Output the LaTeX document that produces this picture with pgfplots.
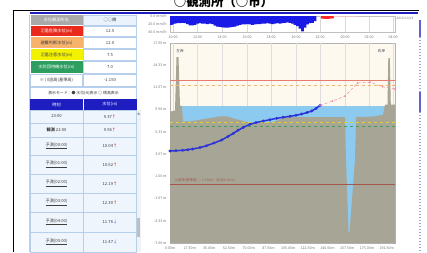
\documentclass[border=0pt]{standalone}
\usepackage{pgfplots}
\pgfplotsset{compat=1.18}
\usepackage{fontspec}
\setmainfont{Noto Sans CJK JP}
\definecolor{navyb}{HTML}{1E1EC0}
\definecolor{cred}{HTML}{E8291C}
\definecolor{corange}{HTML}{F7B36C}
\definecolor{cyellow}{HTML}{F2F200}
\definecolor{cgreen}{HTML}{2E9E60}
\definecolor{cgrey}{HTML}{A9A9A9}
\definecolor{lightcell}{HTML}{EAF2FB}
\definecolor{rowbg}{HTML}{EFF5FC}
\definecolor{cellline}{HTML}{B5CFEC}
\definecolor{txt}{HTML}{404040}
\definecolor{rainblue}{HTML}{1A1AE6}
\definecolor{ground}{HTML}{A7A696}
\definecolor{water}{HTML}{8DCAF0}
\definecolor{cream}{HTML}{FDF9EE}
\definecolor{lvred}{HTML}{E57C72}
\definecolor{lvorange}{HTML}{F1B46E}
\definecolor{lvyellow}{HTML}{DCD23A}
\definecolor{lvgreen}{HTML}{489A5E}
\definecolor{riverbed}{HTML}{A4564C}
\definecolor{wline}{HTML}{2B33D6}
\definecolor{fcast}{HTML}{F08DA2}
\newcommand{\tf}{\fontsize{4.2}{5}\selectfont}
\newcommand{\tk}{\fontsize{3.6}{4.2}\selectfont}
% ya yb fill textcolor label value rightfill
\newcommand{\lrow}[7]{%
  \fill[#3] (30.5,#1+0.4) rectangle (82.6,#2-0.4);
  \node[font=\tf, text=#4] at (56.5,{(#1+#2)/2}) {#5};
  \fill[#7] (83.4,#1+0.4) rectangle (136.5,#2-0.4);
  \draw[cellline, line width=0.4] (83.4,#1+0.4) rectangle (136.5,#2-0.4);
  \node[font=\tf, text=txt] at (110,{(#1+#2)/2}) {#6};
}
% ya yb label value arrow arrowcolor
\newcommand{\drow}[6]{%
  \fill[rowbg] (30,#1) rectangle (136.5,#2);
  \draw[cellline, line width=0.4] (30,#1) rectangle (136.5,#2);
  \draw[cellline, line width=0.4] (83,#1) -- (83,#2);
  \node[font=\tf, text=txt] at (56.5,{(#1+#2)/2}) {#3};
  \node[font=\tf, text=txt] at (110,{(#1+#2)/2}) {#4\textcolor{#6}{#5}};
}
\begin{document}
\begin{tikzpicture}[x=1pt,y=1pt]
\path[use as bounding box] (0,0) rectangle (427,252);
\clip (0,0) rectangle (427,252);
\fill[white] (0,0) rectangle (427,252);
% title
\node[anchor=base, font=\bfseries\fontsize{12.4}{14}\selectfont] at (223.5,245) {○観測所（○市）};
% frame
\draw[black, line width=0.6] (13,0) -- (13,242) -- (419,242);
\fill[navyb] (30,237.6) rectangle (418,240);
\draw[navyb!70, line width=2.2] (420,232) -- (420,215);
\draw[navyb!70, line width=2.2] (420,160) -- (420,140);
\draw[navyb!40, line width=1.5, dash pattern=on 1pt off 2pt] (420,215) -- (420,160);
\draw[navyb!40, line width=1.5, dash pattern=on 1pt off 2pt] (420,140) -- (420,0);
\draw[cellline, line width=0.4] (29.5,0) -- (29.5,237);
% table
\lrow{226.8}{237.4}{cgrey}{white}{水位観測所名}{○○橋}{lightcell}
\lrow{215.2}{226.6}{cred}{white}{氾濫危険水位(m)}{12.5}{white}
\lrow{203.2}{215}{corange}{txt}{避難判断水位(m)}{12.0}{white}
\lrow{191.2}{203}{cyellow}{txt}{氾濫注意水位(m)}{7.5}{white}
\lrow{178.2}{191}{cgreen}{white}{水防団待機水位(m)}{7.0}{white}
\lrow{165.2}{178}{white}{txt}{※ 川底高(基準高)}{-1.150}{white}
\draw[cellline, line width=0.4] (30.5,165.4) rectangle (82.6,177.6);
\fill[white] (30.5,153.2) rectangle (136.5,164.8);
\draw[cellline, line width=0.4] (30.5,153.2) rectangle (136.5,164.8);
\node[font=\fontsize{3.9}{4.5}\selectfont, text=txt] at (83.5,159) {表示モード：● 水位(H)表示 ○ 標高表示};
\fill[navyb] (30,142) rectangle (136.5,153);
\draw[white, line width=0.4] (83,142) -- (83,153);
\node[font=\tf, text=white] at (56.5,147.5) {時刻};
\node[font=\tf, text=white] at (110,147.5) {水位(m)};
\drow{129}{142}{23:00}{9.37}{↑}{red}
\drow{115}{129}{\textbf{観測} 22:00}{9.56}{↑}{red}
\drow{97}{115}{\underline{予測(00:00)}}{10.04}{↑}{red}
\drow{78}{97}{\underline{予測(01:00)}}{10.62}{↑}{red}
\drow{59}{78}{\underline{予測(02:00)}}{12.19}{↑}{red}
\drow{40}{59}{\underline{予測(03:00)}}{12.30}{↑}{red}
\drow{20}{40}{\underline{予測(04:00)}}{11.76}{↓}{blue!70}
\drow{0}{20}{\underline{予測(05:00)}}{11.47}{↓}{blue!70}
% scrollbar
\fill[black!5] (136.5,0) rectangle (140.5,142);
\fill[black!25] (136.8,15) rectangle (140.2,34);
\fill[black!45] (137.3,137.5) -- (140,137.5) -- (138.65,139.6) -- cycle;
% date label
\node[font=\fontsize{3.2}{4}\selectfont, text=black!55] at (405,233) {2019/10/12};

% ---------- rainfall chart ----------
\begin{axis}[
  at={(282.5pt,227.55pt)}, anchor=center,
  width=225pt, height=16.5pt, scale only axis,
  xmin=0, xmax=225, ymin=0, ymax=40, y dir=reverse,
  axis line style={black!25, line width=0.4},
  xtick={3,27.5,52,77,101,126,150,175,199,223},
  xticklabels={10:00,12:00,14:00,16:00,18:00,20:00,22:00,00:00,02:00,04:00},
  ytick={0,20,40},
  yticklabels={0.0 mm/h,20.0 mm/h,40.0 mm/h},
  xmajorgrids, major grid style={black!15, line width=0.4},
  tick label style={font=\tk, text=black!55},
  major tick length=0pt,
]
\addplot[ybar, bar width=2.6, bar shift=0pt, fill=rainblue, draw=none] coordinates {
(1.3,21)(2.5,20)(5,18)(7.5,17)(10,17)(12.5,16)(15,17)(17.5,19)(20,22)(22.5,22)
(25,21)(27.5,18)(30,17)(32.5,18)(35,18)(37.5,19)(40,18)(42.5,19)(45,23)(47.5,25)
(50,26)(52.5,27)(55,28)(57.5,28)(60,27)(62.5,26)(65,25)(67.5,23)(70,21)(72.5,20)
(75,20)(77.5,19)(80,20)(82.5,21)(85,20)(87.5,19)(90,19)(92.5,18)(95,18)(97.5,17)
(100,18)(102.5,19)(105,18)(107.5,17)(110,18)(112.5,17)(115,16)(117.5,15)(120,16)(122.5,18)
(125,21)(127.5,24)(130,30)(132.5,37)(135,28)(137.5,20)(140,17)(142.5,16)(145,12)};
\addplot[ybar, bar width=2.6, bar shift=0pt, fill=red!85, draw=none] coordinates {
(152.5,6)(155,6.5)(157.5,6.5)(160,6)(162.5,5.5)};
\addplot[ybar, bar width=2.6, bar shift=0pt, fill=red!20, draw=none] coordinates {
(165,1.5)(167.5,1.5)(170,1.2)(172.5,1.2)(175,1)(177.5,1)(180,1)(182.5,0.8)(185,0.8)(187.5,0.6)};
\end{axis}

% ---------- cross-section / water level chart ----------
\begin{axis}[
  at={(170pt,9pt)}, anchor=south west,
  width=225pt, height=200pt, scale only axis,
  xmin=0, xmax=225, ymin=-7, ymax=17,
  axis background/.style={fill=cream},
  axis line style={black!30, line width=0.5},
  xtick={0,19.7,39.4,59.1,78.8,98.5,118.2,137.9,157.6,177.3,197,216.7},
  xticklabels={0.00m,17.50m,35.00m,52.50m,70.00m,87.50m,105.00m,122.50m,140.00m,157.50m,175.00m,192.50m},
  ytick={-7,-4.3333,-1.6667,1,3.6667,6.3333,9,11.6667,14.3333,17},
  yticklabels={-7.00 m,-4.33 m,-1.67 m,1.00 m,3.67 m,6.33 m,9.00 m,11.67 m,14.33 m,17.00 m},
  tick label style={font=\tk, text=black!55},
  major tick length=0pt,
  extra x ticks={3,27.5,52,77,101,126,150,175,199,223},
  extra x tick labels={,,,,,,,,,},
  extra x tick style={grid=major, major grid style={black!13, line width=0.4}},
]
% water body
\addplot[fill=water, draw=none] coordinates {(10,-7)(10,9.48)(215,9.48)(215,-7)};
% ground cross-section
\addplot[fill=ground, draw=none] coordinates {
(0,-7)(0,8.76)(5,8.9)(6.5,15.3)(8.5,15.3)(10,9.5)(12,9.4)(13,7.6)(20,7.6)(30,7.8)
(40,8.0)(50,8.2)(57,8.2)(65,7.9)(80,7.45)(95,7.4)(105,7.6)(115,8.1)(175,8.1)
(176,3)(178.5,-5.7)(179.5,-5.7)(185,3)(186,8.1)(205,8.2)(213,8.4)(215,9.6)(217.5,9.6)
(218.3,15.2)(219.8,15.2)(220.8,9.6)(225,9.6)(225,-7)};
% level lines
\addplot[lvred, line width=0.9] coordinates {(0,12.48)(225,12.48)};
\addplot[lvorange, line width=0.8, dashed] coordinates {(0,11.96)(225,11.96)};
\addplot[lvyellow, line width=0.9, dashed] coordinates {(0,7.44)(225,7.44)};
\addplot[lvgreen, line width=0.9, dashed] coordinates {(0,6.96)(225,6.96)};
\addplot[riverbed, line width=1.3] coordinates {(0,0)(225,0)};
\node[anchor=south west, font=\fontsize{3.4}{4}\selectfont, text=riverbed, inner sep=0.6pt] at (axis cs:4,0.15) {川底高(基準高)：-1.150m（水位0.00m）};
% observed water level
\addplot[wline, line width=1.5, mark=*, mark size=0.55pt] coordinates {
(0,4.04)(6,4.08)(12.7,4.12)(18,4.2)(22.7,4.28)(30,4.45)(36.7,4.68)(44,5.0)(51.7,5.36)
(58,5.78)(63.3,6.16)(68,6.52)(73.3,6.88)(80,7.24)(86,7.45)(93.3,7.64)(100,7.8)
(106.7,7.96)(113,8.08)(120,8.2)(126,8.32)(131.7,8.48)(137,8.65)(141.7,8.84)(146,9.15)(150,9.5)};
% forecast
\addplot[fcast, line width=0.5, densely dashed, mark=*, mark size=0.6pt, mark options={solid}] coordinates {
(150,9.5)(162.5,10.04)(175,10.62)(187.5,12.19)(200,12.30)(212.5,11.76)(225,11.47)};
\node[font=\fontsize{3.6}{4}\selectfont, text=black!80, fill=white, fill opacity=0.7, text opacity=1, inner sep=0.4pt] at (axis cs:10,16) {左岸};
\node[font=\fontsize{3.6}{4}\selectfont, text=black!80, fill=white, fill opacity=0.7, text opacity=1, inner sep=0.4pt] at (axis cs:211.5,16) {右岸};
\end{axis}
\end{tikzpicture}
\end{document}
